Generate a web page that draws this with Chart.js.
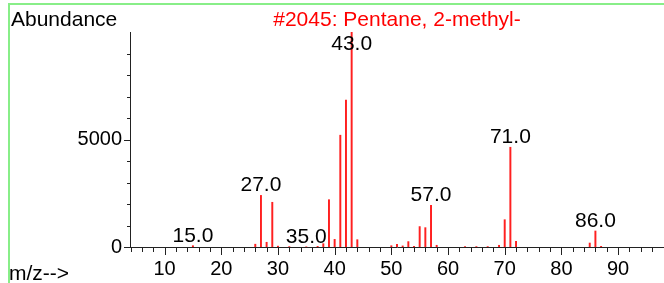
<!DOCTYPE html>
<html>
<head>
<meta charset="utf-8">
<script src="https://cdn.jsdelivr.net/npm/chart.js@4.4.1/dist/chart.umd.min.js"></script>
<style>
  html, body { margin: 0; padding: 0; background: #fff; }
  #spec { display: block; }
</style>
</head>
<body>
<canvas id="spec" width="664" height="283"></canvas>
<script>
// spectrum peaks (m/z and abundance)
var mz = [15, 26, 27, 28, 29, 30, 32, 35, 37, 38, 39, 40, 41, 42, 43, 44,
          50, 51, 52, 53, 54, 55, 56, 57, 58, 63, 65, 67, 69, 70, 71, 72, 85, 86, 87];
var abundance = [60, 130, 2400, 220, 2080, 40, 20, 10, 30, 155, 2200, 355, 5200, 6830, 9999, 340,
                 60, 125, 50, 250, 30, 950, 900, 1940, 80, 20, 20, 20, 80, 1270, 4640, 265, 185, 745, 30];
var labelledPeaks = [15, 27, 35, 43, 57, 71, 86];
var xTickLabels = [10, 20, 30, 40, 50, 60, 70, 80, 90];
var yTickLabels = [0, 5000];
var title = '#2045: Pentane, 2-methyl-';

var FONT = "'Liberation Sans', Arial, sans-serif";

// little tick marks like the instrument printout
var tickMarks = {
  id: 'tickMarks',
  afterDraw: function(chart) {
    var ctx = chart.ctx, xs = chart.scales.x, ys = chart.scales.y;
    var a = chart.chartArea;
    ctx.save();
    ctx.strokeStyle = '#222';
    ctx.lineWidth = 1;
    ctx.beginPath();
    for (var v = 4; v <= 96; v += 2) {
      var px = Math.round(xs.getPixelForValue(v)) + 0.5;
      var len = v % 10 === 0 ? 8 : 5;
      ctx.moveTo(px, a.bottom);
      ctx.lineTo(px, a.bottom + len);
    }
    for (var w = 0; w <= 9000; w += 1000) {
      var py = Math.round(ys.getPixelForValue(w)) + 0.5;
      var l = w % 5000 === 0 ? 6 : 3;
      ctx.moveTo(a.left, py);
      ctx.lineTo(a.left - l, py);
    }
    ctx.stroke();
    ctx.restore();
  }
};

var annotations = {
  id: 'annotations',
  afterDraw: function(chart) {
    var ctx = chart.ctx;
    var meta = chart.getDatasetMeta(0);
    ctx.save();
    ctx.font = '21px ' + FONT;
    ctx.fillStyle = '#000';
    ctx.textAlign = 'center';
    ctx.textBaseline = 'alphabetic';
    labelledPeaks.forEach(function(m) {
      var el = meta.data[mz.indexOf(m)];
      ctx.fillText(m.toFixed(1), el.x, Math.max(el.y - 4, 50));
    });

    ctx.textAlign = 'left';
    ctx.fillText('Abundance', 11, 26);
    ctx.fillText('m/z-->', 9, 280);

    ctx.textAlign = 'center';
    ctx.fillStyle = '#ff0000';
    ctx.fillText(title, 397, 26);

    // green frame top/left
    ctx.strokeStyle = '#88ee88';
    ctx.lineWidth = 2;
    ctx.beginPath();
    ctx.moveTo(9, 283);
    ctx.lineTo(9, 4);
    ctx.lineTo(664, 4);
    ctx.stroke();
    ctx.restore();
  }
};

var ctx = document.getElementById('spec').getContext('2d');
new Chart(ctx, {
  type: 'bar',
  data: {
    datasets: [{
      data: mz.map(function(m, i) { return { x: m, y: abundance[i] }; }),
      backgroundColor: '#ff2020',
      borderWidth: 0,
      barThickness: 1.3
    }]
  },
  options: {
    responsive: false,
    animation: false,
    devicePixelRatio: 1,
    layout: { padding: { top: 32, left: 0, right: 0, bottom: 0 } },
    plugins: {
      legend: { display: false },
      tooltip: { enabled: false },
      title: { display: false }
    },
    scales: {
      x: {
        type: 'linear',
        offset: false,
        min: 3.9,
        max: 98.1,
        afterBuildTicks: function(scale) {
          scale.ticks = xTickLabels.map(function(v) { return { value: v }; });
        },
        afterFit: function(scale) { scale.height = 36; },
        grid: { display: false, drawTicks: false, offset: false },
        border: { display: true, color: '#222', width: 1 },
        ticks: {
          autoSkip: false,
          maxRotation: 0,
          padding: 10,
          color: '#000',
          font: { family: FONT, size: 20 },
          callback: function(v) { return String(v); }
        }
      },
      y: {
        min: 0,
        max: 10000,
        afterBuildTicks: function(scale) {
          scale.ticks = yTickLabels.map(function(v) { return { value: v }; });
        },
        afterFit: function(scale) { scale.width = 130; },
        grid: { display: false, drawTicks: false },
        border: { display: true, color: '#222', width: 1 },
        ticks: {
          padding: 8,
          color: '#000',
          font: { family: FONT, size: 20 },
          callback: function(v) { return String(v); }
        }
      }
    }
  },
  plugins: [tickMarks, annotations]
});
</script>
</body>
</html>
